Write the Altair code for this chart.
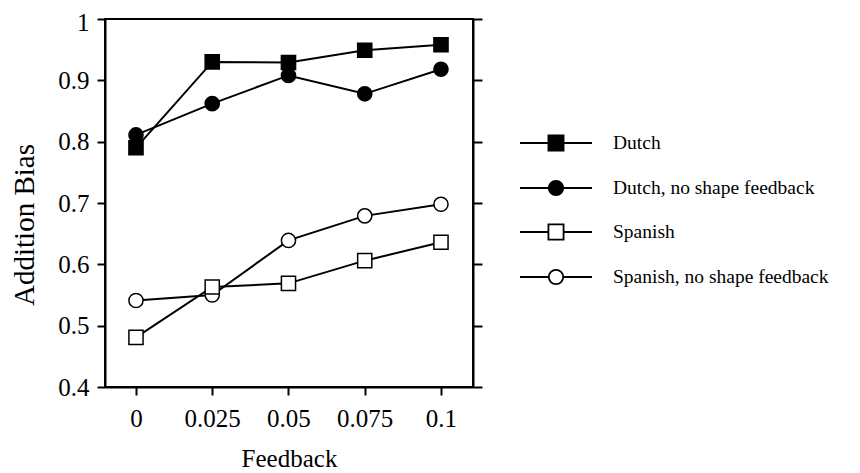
import altair as alt
import pandas as pd

feedback = [0, 0.025, 0.05, 0.075, 0.1]
series_names = ["Dutch", "Dutch, no shape feedback", "Spanish", "Spanish, no shape feedback"]
dutch = [0.790, 0.930, 0.929, 0.949, 0.958]
dutch_ns = [0.811, 0.862, 0.908, 0.878, 0.918]
spanish = [0.481, 0.563, 0.569, 0.606, 0.636]
spanish_ns = [0.541, 0.550, 0.639, 0.679, 0.698]

x_ticks = [0, 0.025, 0.05, 0.075, 0.1]
y_ticks = [0.4, 0.5, 0.6, 0.7, 0.8, 0.9, 1.0]

values = {
    "Dutch": dutch,
    "Dutch, no shape feedback": dutch_ns,
    "Spanish": spanish,
    "Spanish, no shape feedback": spanish_ns,
}
draw_order = ["Dutch, no shape feedback", "Dutch", "Spanish, no shape feedback", "Spanish"]
rows = []
for name in draw_order:
    for fx, v in zip(feedback, values[name]):
        rows.append({"feedback": fx, "bias": v, "series": name})
df = pd.DataFrame(rows)

FONT = "Liberation Serif"

xscale = alt.Scale(domain=[-0.01016, 0.1105], nice=False, zero=False)
yscale = alt.Scale(domain=[0.4, 1.0], nice=False, zero=False)

x_axis = alt.Axis(values=x_ticks, labelExpr="'' + datum.value", tickSize=8, tickWidth=2,
                  tickColor="black", domainColor="black", domainWidth=2, grid=False,
                  labelFont=FONT, labelFontSize=25, labelColor="black",
                  labelBaseline="alphabetic", labelPadding=31, labelFlush=False, labelOverlap=False,
                  title="Feedback", titleFont=FONT, titleFontSize=25, titleFontWeight="normal",
                  titleColor="black", titleBaseline="alphabetic", titleY=79)
y_axis = alt.Axis(values=y_ticks, labelExpr="'' + datum.value", tickSize=8, tickWidth=2,
                  tickColor="black", domainColor="black", domainWidth=2, grid=False,
                  labelFont=FONT, labelFontSize=25, labelColor="black",
                  labelOffset={"condition": {"test": "datum.value == 1", "value": 3}, "value": 0},
                  labelPadding=8, labelFlush=False, labelOverlap=False,
                  title="Addition Bias", titleFont=FONT, titleFontSize=29, titleFontWeight="normal",
                  titleColor="black", titleBaseline="alphabetic", titleX=-72, titleY=205.5)
y_axis_right = alt.Axis(values=y_ticks, orient="right", tickSize=9, tickWidth=2, tickColor="black",
                        domainColor="black", domainWidth=2, grid=False, labels=False, title=None)

base = alt.Chart(df)

lines = base.mark_line(color="black", strokeWidth=2).encode(
    x=alt.X("feedback:Q", scale=xscale, axis=x_axis),
    y=alt.Y("bias:Q", scale=yscale, axis=y_axis),
    detail="series:N",
)

points = base.mark_point(filled=True, size=200, stroke="black", strokeWidth=1.5, opacity=1).encode(
    x=alt.X("feedback:Q", scale=xscale, axis=x_axis),
    y=alt.Y("bias:Q", scale=yscale, axis=y_axis_right),
    shape=alt.Shape("series:N", scale=alt.Scale(domain=series_names,
                    range=["square", "circle", "square", "circle"]), legend=None),
    fill=alt.Fill("series:N", scale=alt.Scale(domain=series_names,
                  range=["black", "black", "white", "white"]), legend=None),
)

sq = "M-2,0H-0.42M0.42,0H2M-0.42,-0.42H0.42V0.42H-0.42Z"
ci = "M-2,0H-0.4M0.4,0H2M0.4,0A0.4,0.4,0,1,1,-0.4,0A0.4,0.4,0,1,1,0.4,0Z"

legend = alt.Legend(title=None, orient="none", legendX=432, legendY=105, padding=0,
                    labelFont=FONT, labelFontSize=19.5, labelColor="black", labelLimit=400,
                    labelOffset=38, rowPadding=14, symbolSize=1296,
                    symbolStrokeColor="black", symbolStrokeWidth=1.8)

legend_layer = base.transform_filter("false").mark_point(
    filled=True, size=1296, stroke="black", strokeWidth=1.8, opacity=1).encode(
    x=alt.X("feedback:Q", scale=xscale, axis=x_axis),
    y=alt.Y("bias:Q", scale=yscale, axis=None),
    shape=alt.Shape("series:N", scale=alt.Scale(domain=series_names, range=[sq, ci, sq, ci]),
                    legend=legend),
    fill=alt.Fill("series:N", scale=alt.Scale(domain=series_names,
                  range=["black", "black", "white", "white"]), legend=legend),
    stroke=alt.Stroke("series:N", scale=alt.Scale(domain=series_names,
                      range=["black", "black", "black", "black"]), legend=legend),
)

chart = alt.layer(lines, points, legend_layer).resolve_scale(
    shape="independent", fill="independent", stroke="independent"
).resolve_axis(y="independent").resolve_legend(
    shape="independent", fill="independent", stroke="independent"
).properties(
    width=368, height=368,
    padding={"left": 97, "top": 11, "right": 370, "bottom": 86},
    autosize=alt.AutoSizeParams(type="none"),
).configure_view(stroke="black", strokeWidth=2)

chart.save("out.html", embed_options={"renderer": "svg", "actions": False})
